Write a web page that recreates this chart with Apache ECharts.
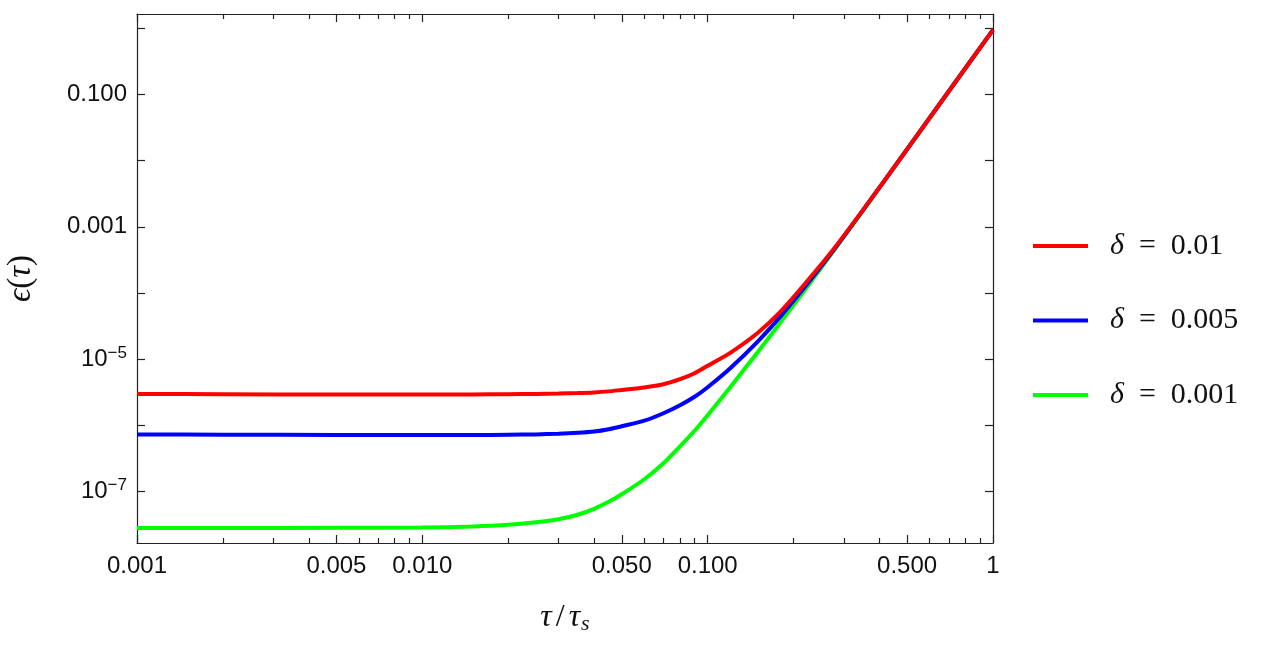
<!DOCTYPE html>
<html>
<head>
<meta charset="utf-8">
<script src="https://cdn.jsdelivr.net/npm/echarts@6/dist/echarts.min.js"></script>
<style>
  html, body { margin: 0; padding: 0; background: #fff; }
  #chart { width: 1264px; height: 649px; }
</style>
</head>
<body>
<div id="chart"></div>
<script>
// values (log-log)
const tau = [0.001, 0.002, 0.005, 0.01, 0.015, 0.02, 0.025, 0.03, 0.035, 0.04, 0.045, 0.05, 0.06, 0.07, 0.08, 0.09, 0.1, 0.12, 0.15, 0.18, 0.22, 0.27, 0.35, 0.5, 0.7, 1]
const eps001 = [2.99e-6, 2.96e-6, 2.93e-6, 2.93e-6, 2.94e-6, 2.96e-6, 2.99e-6, 3.03e-6, 3.08e-6, 3.15e-6, 3.27e-6, 3.44e-6, 3.75e-6, 4.19e-6, 4.99e-6, 6.15e-6, 7.97e-6, 1.25e-5, 2.51e-5, 5.22e-5, 1.40e-4, 4.04e-4, 1.78e-3, 1.48e-2, 0.111, 0.94]
const eps0005 = [7.3e-7, 7.25e-7, 7.2e-7, 7.15e-7, 7.16e-7, 7.25e-7, 7.33e-7, 7.49e-7, 7.73e-7, 8.09e-7, 8.77e-7, 9.73e-7, 1.18e-6, 1.53e-6, 2.02e-6, 2.71e-6, 3.78e-6, 7.31e-6, 1.86e-5, 4.43e-5, 1.26e-4, 3.89e-4, 1.77e-3, 1.48e-2, 0.111, 0.94]
const eps0001 = [2.83e-8, 2.83e-8, 2.85e-8, 2.87e-8, 2.98e-8, 3.16e-8, 3.45e-8, 3.83e-8, 4.48e-8, 5.52e-8, 7.03e-8, 9.14e-8, 1.54e-7, 2.69e-7, 4.85e-7, 8.32e-7, 1.43e-6, 3.78e-6, 1.29e-5, 3.6e-5, 1.14e-4, 3.77e-4, 1.76e-3, 1.48e-2, 0.111, 0.94]

const names = ['δ = 0.01', 'δ = 0.005', 'δ = 0.001']
const colors = ['#ff0000', '#0000ff', '#00ff00']

const xMajor = [0.001, 0.005, 0.01, 0.05, 0.1, 0.5, 1]
const xMajorText = ['0.001', '0.005', '0.010', '0.050', '0.100', '0.500', '1']
const xMinor = [0.002, 0.003, 0.004, 0.006, 0.007, 0.008, 0.009, 0.02, 0.03, 0.04, 0.06, 0.07, 0.08, 0.09, 0.2, 0.3, 0.4, 0.6, 0.7, 0.8, 0.9]
const yTicks = [1e-7, 1e-6, 1e-5, 1e-4, 1e-3, 1e-2, 1e-1, 1]
const yLabels = [1e-7, 1e-5, 1e-3, 1e-1]

const xMin = 0.001, xMax = 1
const yMin = 1.68e-8, yMax = 1.63

const frame = '#222'
const sans = 'Liberation Sans'
const serif = 'Liberation Serif'

function xLabel(v) {
  for (let i = 0; i < xMajor.length; i++) {
    if (Math.abs(Math.log10(v) - Math.log10(xMajor[i])) < 1e-6) return xMajorText[i]
  }
  return ''
}
function yLabel(v) {
  const e = Math.round(Math.log10(v))
  if (e === -1) return '0.100'
  if (e === -3) return '0.001'
  return '10{sup|−' + (-e) + '}'
}

function xAxisOf(pos, ticks, len, main) {
  return {
    type: 'log', logBase: 10, position: pos, min: xMin, max: xMax,
    axisLine: { show: main, onZero: false, lineStyle: { color: frame, width: 1.2 } },
    axisTick: { show: true, inside: true, length: len, customValues: ticks, lineStyle: { color: frame, width: 1.2 } },
    axisLabel: main && pos === 'bottom' ? {
      show: true, customValues: xMajor, formatter: xLabel, margin: 11,
      color: '#111', fontFamily: sans, fontSize: 24
    } : { show: false },
    splitLine: { show: false }, minorTick: { show: false }
  }
}

const chart = echarts.init(document.getElementById('chart'))

const option = {
  backgroundColor: '#fff',
  animation: false,
  grid: { left: 137, right: 271, top: 14, bottom: 106, outerBoundsMode: 'none' },
  legend: {
    orient: 'vertical', left: 1028, top: 226,
    icon: 'rect', itemWidth: 55, itemHeight: 4, itemGap: 44.5,
    data: names,
    formatter: n => '{i|δ}{n|\u2002=\u20020.' + n.split('0.')[1] + '}',
    textStyle: {
      color: '#111', fontFamily: serif, fontSize: 30, padding: [0, 0, 0, 17],
      rich: {
        i: { fontFamily: serif, fontStyle: 'italic', fontSize: 30, color: '#111' },
        n: { fontFamily: serif, fontSize: 30, color: '#111' }
      }
    }
  },
  xAxis: [
    Object.assign(xAxisOf('bottom', xMajor, 8, true), {
      name: '{i|τ}{s|/}{i|τ}{sub|s}', nameLocation: 'middle', nameGap: 58,
      nameTextStyle: {
        color: '#111', fontFamily: serif, fontSize: 32,
        rich: {
          i: { fontFamily: serif, fontStyle: 'italic', fontSize: 32, color: '#111' },
          s: { fontFamily: serif, fontSize: 32, color: '#111', padding: [0, 4, 0, 4] },
          sub: { fontFamily: serif, fontStyle: 'italic', fontSize: 22, color: '#111', verticalAlign: 'bottom', padding: [12, 0, 0, 1] }
        }
      }
    }),
    xAxisOf('bottom', xMinor, 5, false),
    xAxisOf('top', xMajor, 8, true),
    xAxisOf('top', xMinor, 5, false)
  ],
  yAxis: [
    {
      type: 'log', logBase: 10, position: 'left', min: yMin, max: yMax,
      name: '{i|ϵ}({i|τ})', nameLocation: 'middle', nameGap: 99, nameRotate: 90,
      nameTextStyle: {
        color: '#111', fontFamily: serif, fontSize: 33,
        rich: { i: { fontFamily: serif, fontStyle: 'italic', fontSize: 33, color: '#111' } }
      },
      axisLine: { show: true, onZero: false, lineStyle: { color: frame, width: 1.2 } },
      axisTick: { show: true, inside: true, length: 8, customValues: yTicks, lineStyle: { color: frame, width: 1.2 } },
      axisLabel: {
        show: true, customValues: yLabels, formatter: yLabel, margin: 10,
        color: '#111', fontFamily: sans, fontSize: 24,
        rich: {
          sup: { fontFamily: sans, fontSize: 17, color: '#111', verticalAlign: 'top', padding: [0, 0, 12, 0] }
        }
      },
      splitLine: { show: false }, minorTick: { show: false }
    },
    {
      type: 'log', logBase: 10, position: 'right', min: yMin, max: yMax,
      axisLine: { show: true, onZero: false, lineStyle: { color: frame, width: 1.2 } },
      axisTick: { show: true, inside: true, length: 8, customValues: yTicks, lineStyle: { color: frame, width: 1.2 } },
      axisLabel: { show: false },
      splitLine: { show: false }, minorTick: { show: false }
    }
  ],
  series: [eps001, eps0005, eps0001].map((ys, k) => ({
    name: names[k],
    type: 'line',
    xAxisIndex: 0, yAxisIndex: 0,
    data: tau.map((t, i) => [t, ys[i]]),
    smooth: 0.25,
    showSymbol: false,
    color: colors[k],
    lineStyle: { color: colors[k], width: 4 },
    z: 3 - k
  }))
}

chart.setOption(option)
</script>
</body>
</html>
